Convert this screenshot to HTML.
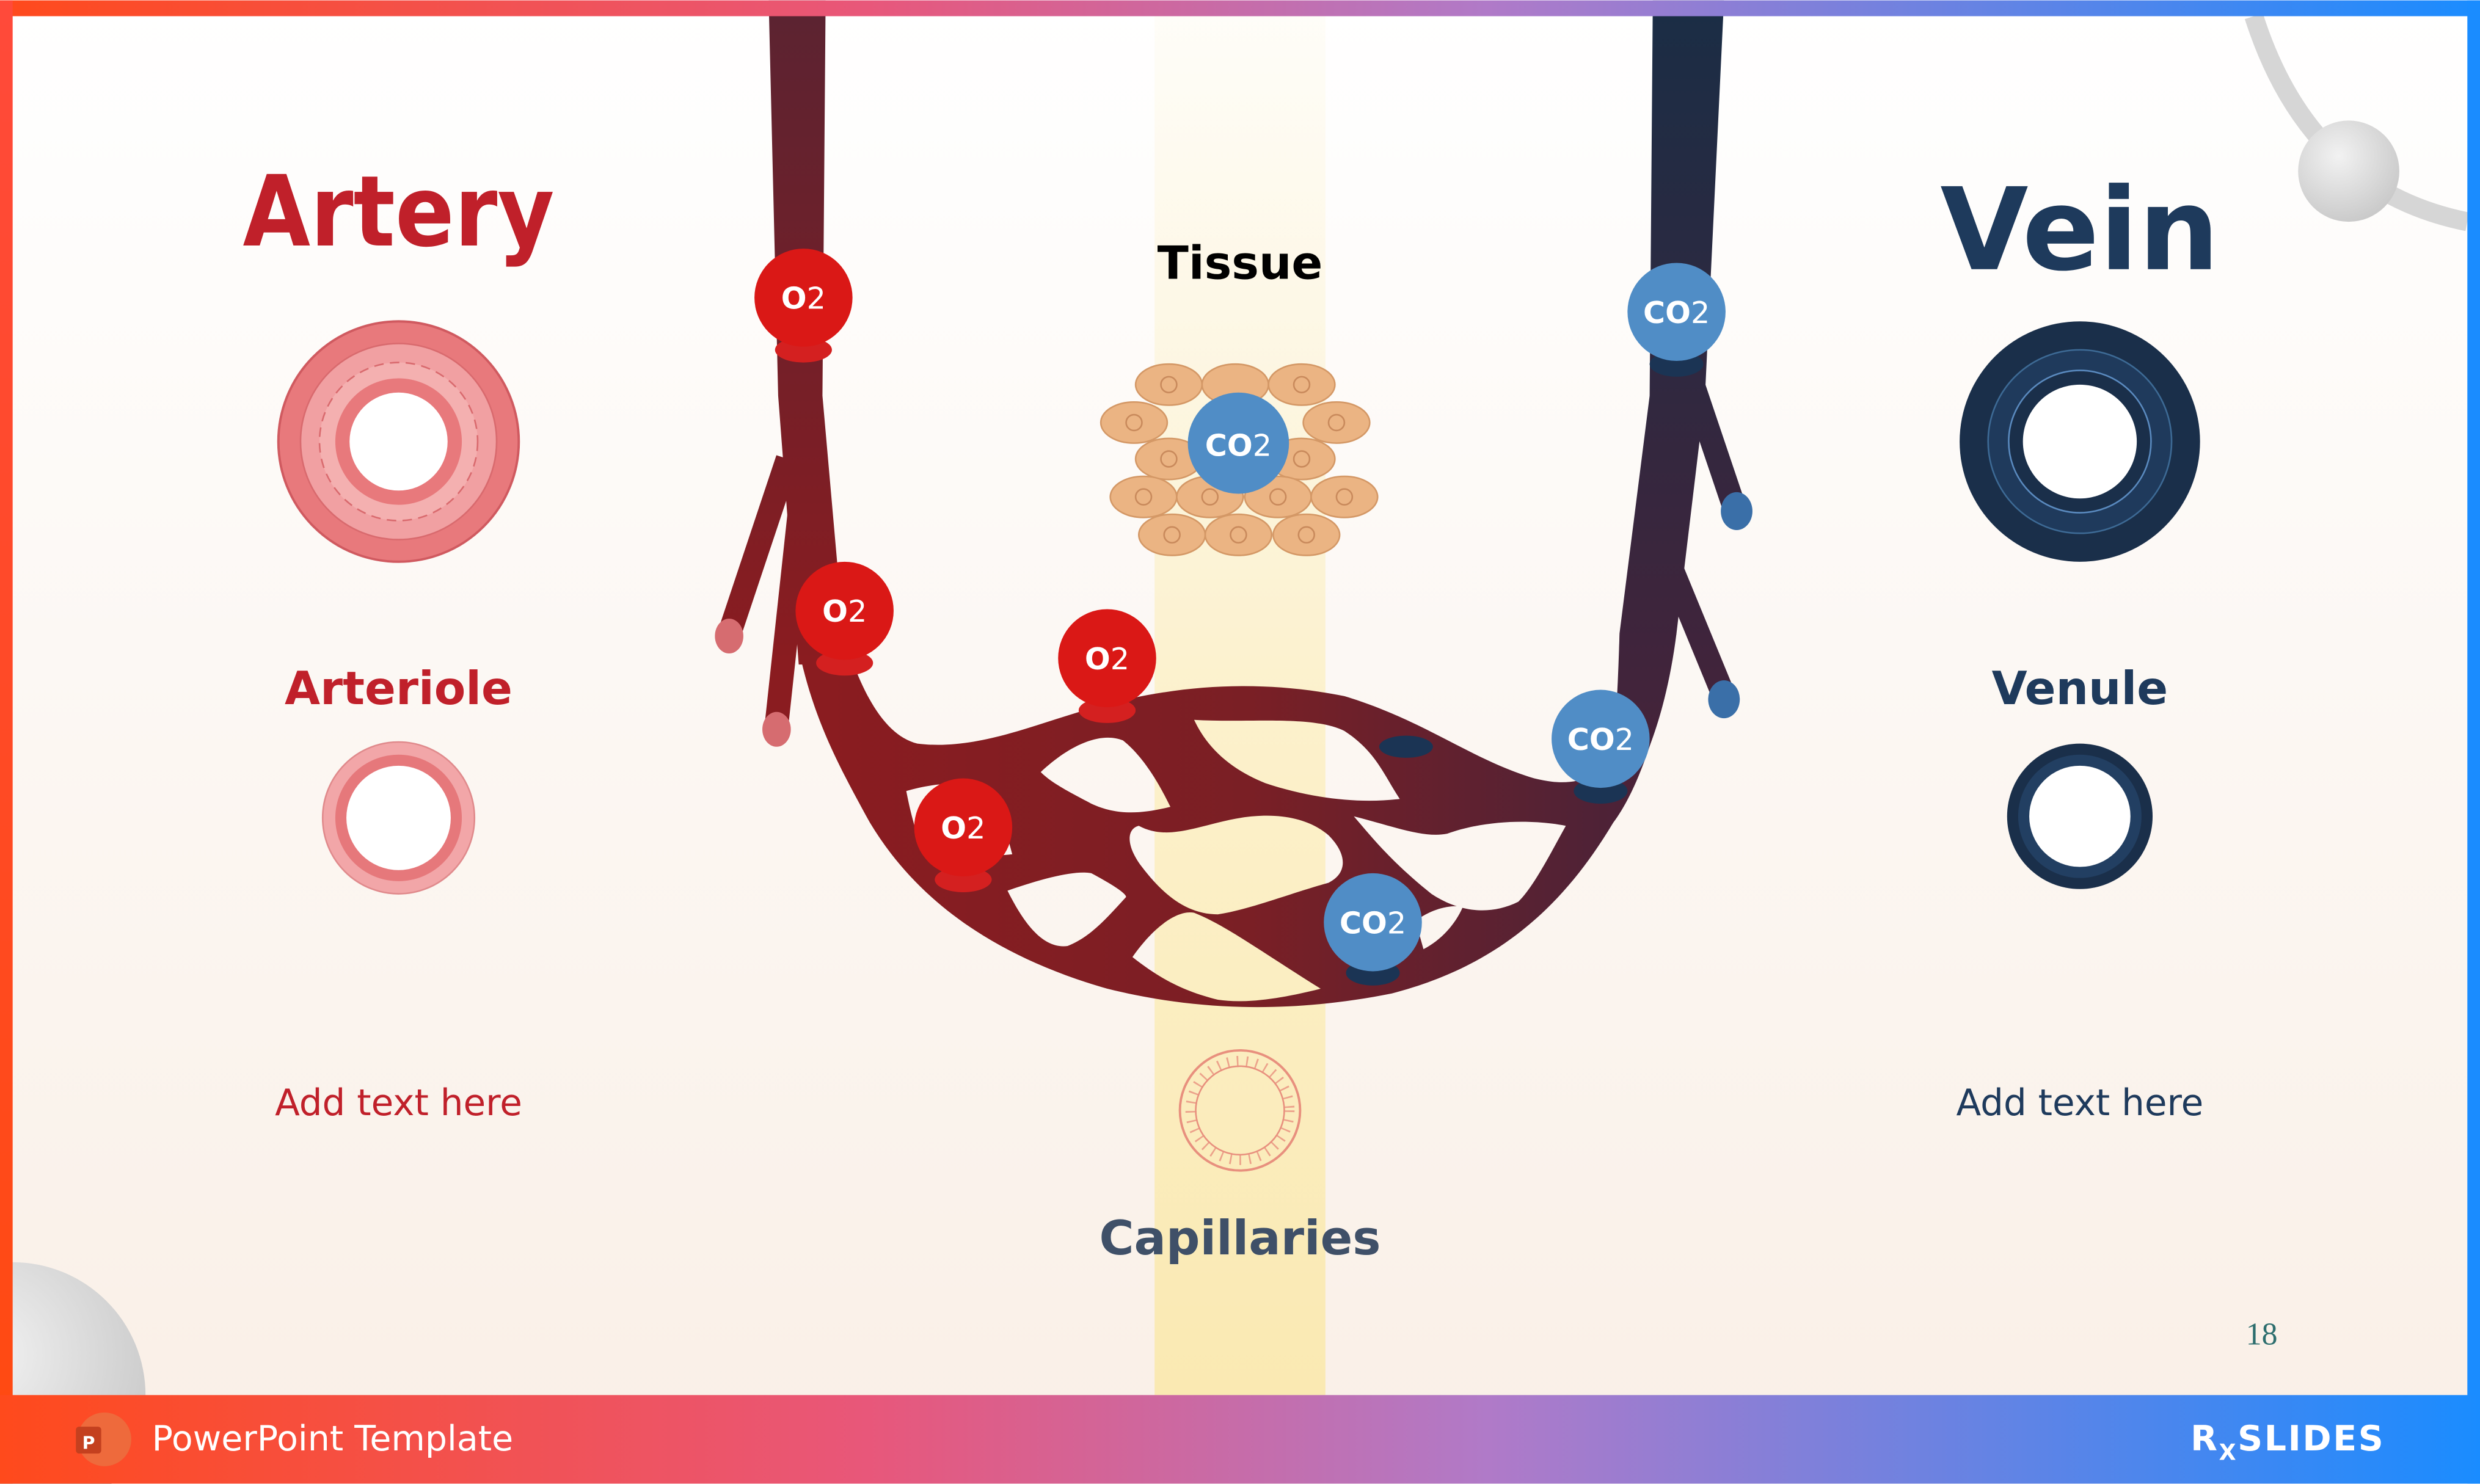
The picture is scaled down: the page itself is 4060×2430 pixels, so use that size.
<!DOCTYPE html>
<html><head><meta charset="utf-8"><style>
html,body{margin:0;padding:0;width:4060px;height:2430px;overflow:hidden;background:#fff}
svg{display:block}
text{font-family:"DejaVu Sans","Liberation Sans",sans-serif}
</style></head><body>
<svg width="4060" height="2430" viewBox="0 0 1568 938" xmlns="http://www.w3.org/2000/svg">
<defs>
<linearGradient id="bar" x1="0" x2="1" y1="0" y2="0"><stop offset="0" stop-color="#ff4a1c"/><stop offset="0.35" stop-color="#e8577a"/><stop offset="0.6" stop-color="#b07ac8"/><stop offset="1" stop-color="#1a8cff"/></linearGradient>
<linearGradient id="lbar" x1="0" x2="0" y1="0" y2="1"><stop offset="0" stop-color="#ff4a3a"/><stop offset="1" stop-color="#ff4a10"/></linearGradient>
<linearGradient id="bg" x1="0" x2="0" y1="0" y2="1"><stop offset="0" stop-color="#ffffff"/><stop offset="1" stop-color="#f9efe6"/></linearGradient>
<linearGradient id="yel" x1="0" x2="0" y1="0" y2="1"><stop offset="0" stop-color="#fdf6dc" stop-opacity="0.2"/><stop offset="0.5" stop-color="#fcf1cc"/><stop offset="1" stop-color="#fae9b2"/></linearGradient>
<linearGradient id="ves" gradientUnits="userSpaceOnUse" x1="520" y1="0" x2="1060" y2="0"><stop offset="0" stop-color="#8a1c20"/><stop offset="0.5" stop-color="#7a1f25"/><stop offset="1" stop-color="#45233a"/></linearGradient>
<linearGradient id="art" gradientUnits="userSpaceOnUse" x1="0" y1="10" x2="0" y2="420"><stop offset="0" stop-color="#5c2331"/><stop offset="1" stop-color="#8a1c20"/></linearGradient>
<linearGradient id="vein" gradientUnits="userSpaceOnUse" x1="0" y1="10" x2="0" y2="470"><stop offset="0" stop-color="#1b2d45"/><stop offset="1" stop-color="#45233a"/></linearGradient>
<radialGradient id="ball" cx="0.4" cy="0.35" r="0.7"><stop offset="0" stop-color="#f2f2f2"/><stop offset="1" stop-color="#c8c8c8"/></radialGradient>
<mask id="holes" maskUnits="userSpaceOnUse" x="0" y="0" width="1568" height="938">
<rect width="1568" height="938" fill="#fff"/>
<g fill="#000">
<path d="M658,488 C675,472 695,462 710,468 C725,480 735,500 740,510 C720,515 705,515 690,508 C675,500 665,495 658,488 Z"/>
<path d="M755,455 C790,457 830,452 850,462 C870,475 875,490 885,505 C860,508 830,505 800,495 C775,485 762,470 755,455 Z"/>
<path d="M573,500 C590,495 610,493 622,500 C632,510 636,525 640,540 C620,542 600,543 585,540 C578,525 575,510 573,500 Z"/>
<path d="M720,522 C735,530 750,525 770,520 C800,512 825,515 840,528 C852,540 852,552 840,558 C815,565 790,575 770,578 C750,578 735,565 722,548 C712,535 712,524 720,522 Z"/>
<path d="M856,516 C880,522 900,530 915,527 C940,518 970,518 990,522 C980,540 970,560 960,570 C940,580 920,575 905,565 C880,545 868,530 856,516 Z"/>
<path d="M637,563 C660,555 680,550 690,552 C705,560 712,565 712,567 C700,580 690,592 675,598 C660,600 648,585 637,563 Z"/>
<path d="M716,605 C730,585 745,575 755,577 C775,585 795,600 835,625 C815,630 790,635 770,632 C750,627 735,620 716,605 Z"/>
<path d="M895,582 C905,575 915,572 925,573 C920,585 910,595 900,600 Z"/>
</g>
</mask>
</defs>
<rect width="1568" height="938" fill="url(#bg)"/>
<rect x="730" y="10" width="108" height="872" fill="url(#yel)"/>
<path d="M1425,10 Q1460,120 1560,140" fill="none" stroke="#d6d6d6" stroke-width="12"/>
<circle cx="1485" cy="108" r="32" fill="url(#ball)"/>
<circle cx="8" cy="882" r="84" fill="url(#ball)"/>
<g fill="none" stroke-linejoin="round">
<path d="M498,290 L462,398" stroke="url(#art)" stroke-width="15"/>
<path d="M507,310 L491,458" stroke="url(#art)" stroke-width="15"/>
<path d="M1066,230 L1097,322" stroke="url(#vein)" stroke-width="15"/>
<path d="M1053,350 L1090,440" stroke="url(#vein)" stroke-width="15"/>
<path mask="url(#holes)" fill="url(#ves)" d="M503,400 L533,400 C545,440 560,465 580,470 C620,475 660,455 700,445 C750,432 800,430 850,440 C900,455 930,480 970,492 C990,497 1005,495 1022,480 L1024,400 L1060,400 C1050,460 1035,500 1020,520 C990,570 950,610 880,628 C820,640 760,640 700,625 C630,605 580,570 550,520 C528,480 512,450 503,400 Z"/>
<path d="M486,0 L522,0 L520,250 L535,420 L505,420 L492,250 Z" fill="url(#art)"/>
<path d="M1045,0 L1090,0 L1078,250 L1060,400 C1055,440 1045,470 1035,490 L1018,490 C1022,460 1023,430 1024,400 L1043,250 Z" fill="url(#vein)"/>
</g>
<ellipse cx="461" cy="402" rx="9" ry="11" fill="#d66c70"/>
<ellipse cx="491" cy="461" rx="9" ry="11" fill="#d66c70"/>
<ellipse cx="1098" cy="323" rx="10" ry="12" fill="#3a6fa8"/>
<ellipse cx="1090" cy="442" rx="10" ry="12" fill="#3a6fa8"/>
<ellipse cx="889" cy="472" rx="17" ry="7" fill="#1b3454"/>
<rect x="0" y="0" width="1568" height="10" fill="url(#bar)"/>
<rect x="0" y="0" width="8" height="938" fill="url(#lbar)"/>
<rect x="1560" y="0" width="8" height="938" fill="#1a8cff"/>
<rect x="0" y="882" width="1568" height="56" fill="url(#bar)"/>
<g font-weight="bold" font-size="19" fill="#fff" text-anchor="middle">
<ellipse cx="508" cy="221" rx="18" ry="8" fill="#d42020"/><circle cx="508" cy="188" r="31" fill="#da1816"/><text x="508" y="195">O<tspan font-weight="normal">2</tspan></text>
<ellipse cx="534" cy="419" rx="18" ry="8" fill="#d42020"/><circle cx="534" cy="386" r="31" fill="#da1816"/><text x="534" y="393">O<tspan font-weight="normal">2</tspan></text>
<ellipse cx="700" cy="449" rx="18" ry="8" fill="#d42020"/><circle cx="700" cy="416" r="31" fill="#da1816"/><text x="700" y="423">O<tspan font-weight="normal">2</tspan></text>
<ellipse cx="609" cy="556" rx="18" ry="8" fill="#d42020"/><circle cx="609" cy="523" r="31" fill="#da1816"/><text x="609" y="530">O<tspan font-weight="normal">2</tspan></text>
<ellipse cx="1060" cy="230" rx="17" ry="8" fill="#1b3454"/><circle cx="1060" cy="197" r="31" fill="#508dc6"/><text x="1060" y="204">CO<tspan font-weight="normal">2</tspan></text>
<ellipse cx="1012" cy="500" rx="17" ry="8" fill="#1b3454"/><circle cx="1012" cy="467" r="31" fill="#508dc6"/><text x="1012" y="474">CO<tspan font-weight="normal">2</tspan></text>
<ellipse cx="868" cy="615" rx="17" ry="8" fill="#1b3454"/><circle cx="868" cy="583" r="31" fill="#508dc6"/><text x="868" y="590">CO<tspan font-weight="normal">2</tspan></text>
</g>
<text x="784" y="176" font-size="29" font-weight="bold" text-anchor="middle" fill="#000">Tissue</text>
<g fill="#ebb483" stroke="#d49866" stroke-width="1">
<ellipse cx="739" cy="243" rx="21" ry="13"/><ellipse cx="781" cy="243" rx="21" ry="13"/><ellipse cx="823" cy="243" rx="21" ry="13"/>
<ellipse cx="717" cy="267" rx="21" ry="13"/><ellipse cx="845" cy="267" rx="21" ry="13"/>
<ellipse cx="739" cy="290" rx="21" ry="13"/><ellipse cx="823" cy="290" rx="21" ry="13"/>
<ellipse cx="723" cy="314" rx="21" ry="13"/><ellipse cx="765" cy="314" rx="21" ry="13"/><ellipse cx="808" cy="314" rx="21" ry="13"/><ellipse cx="850" cy="314" rx="21" ry="13"/>
<ellipse cx="741" cy="338" rx="21" ry="13"/><ellipse cx="783" cy="338" rx="21" ry="13"/><ellipse cx="826" cy="338" rx="21" ry="13"/>
</g>
<g fill="none" stroke="#c98a5c" stroke-width="1">
<circle cx="739" cy="243" r="5"/><circle cx="823" cy="243" r="5"/><circle cx="717" cy="267" r="5"/><circle cx="845" cy="267" r="5"/><circle cx="739" cy="290" r="5"/><circle cx="823" cy="290" r="5"/><circle cx="723" cy="314" r="5"/><circle cx="765" cy="314" r="5"/><circle cx="808" cy="314" r="5"/><circle cx="850" cy="314" r="5"/><circle cx="741" cy="338" r="5"/><circle cx="783" cy="338" r="5"/><circle cx="826" cy="338" r="5"/>
</g>
<circle cx="783" cy="280" r="32" fill="#508dc6"/>
<text x="783" y="288" font-size="19" font-weight="bold" fill="#fff" text-anchor="middle">CO<tspan font-weight="normal">2</tspan></text>
<circle cx="784" cy="702" r="38" fill="none" stroke="#e8907e" stroke-width="1.5"/>
<circle cx="784" cy="702" r="31" fill="none" stroke="#e8907e" stroke-width="7" stroke-dasharray="1 5" opacity="0.8"/>
<circle cx="784" cy="702" r="28" fill="none" stroke="#e8907e" stroke-width="1"/>
<text x="784" y="793" font-size="30" font-weight="bold" fill="#3f5068" text-anchor="middle">Capillaries</text>
<text x="252" y="155" font-size="62" font-weight="bold" fill="#c0202a" text-anchor="middle" textLength="197" lengthAdjust="spacingAndGlyphs">Artery</text>
<circle cx="252" cy="279" r="76" fill="#e8797c" stroke="#d05a60" stroke-width="1.5"/>
<circle cx="252" cy="279" r="62" fill="#f1a0a2" stroke="#d96a6e" stroke-width="1"/>
<circle cx="252" cy="279" r="50" fill="#f4b0b0" stroke="#d96a6e" stroke-width="1" stroke-dasharray="6 4"/>
<circle cx="252" cy="279" r="40" fill="#e8797c"/>
<circle cx="252" cy="279" r="31" fill="#fff"/>
<text x="252" y="445" font-size="29" font-weight="bold" fill="#c0202a" text-anchor="middle">Arteriole</text>
<circle cx="252" cy="517" r="48" fill="#f2a6a8" stroke="#e08a8c" stroke-width="1"/>
<circle cx="252" cy="517" r="40" fill="#e6787b"/>
<circle cx="252" cy="517" r="33" fill="#fff"/>
<text x="252" y="705" font-size="23" fill="#c0202a" text-anchor="middle">Add text here</text>
<text x="1315" y="170" font-size="72" font-weight="bold" fill="#1e3a5c" text-anchor="middle">Vein</text>
<circle cx="1315" cy="279" r="76" fill="#1a2f4a"/>
<circle cx="1315" cy="279" r="58" fill="#1f3a5c" stroke="#3d6a95" stroke-width="1"/>
<circle cx="1315" cy="279" r="45" fill="#1a2f4a" stroke="#5a8abf" stroke-width="1"/>
<circle cx="1315" cy="279" r="36" fill="#fff"/>
<text x="1315" y="445" font-size="29" font-weight="bold" fill="#1e3a5c" text-anchor="middle">Venule</text>
<circle cx="1315" cy="516" r="46" fill="#1a2f4a"/>
<circle cx="1315" cy="516" r="39" fill="#223f62"/>
<circle cx="1315" cy="516" r="32" fill="#fff"/>
<text x="1315" y="705" font-size="23" fill="#1e3a5c" text-anchor="middle">Add text here</text>
<text x="1430" y="850" font-size="20" fill="#2d6e6e" text-anchor="middle" style="font-family:'Liberation Serif',serif">18</text>
<circle cx="66" cy="910" r="17" fill="#ee6a3c"/>
<rect x="48" y="902" width="16" height="17" rx="2" fill="#c4401f"/>
<text x="56" y="916" font-size="11" font-weight="bold" fill="#fff" text-anchor="middle">P</text>
<text x="96" y="917" font-size="22" fill="#fff">PowerPoint Template</text>
<text x="1385" y="917" font-size="22" font-weight="bold" fill="#fff" letter-spacing="1">R<tspan font-size="14" dy="6">X</tspan><tspan dy="-6">SLIDES</tspan></text>
</svg>
</body></html>
